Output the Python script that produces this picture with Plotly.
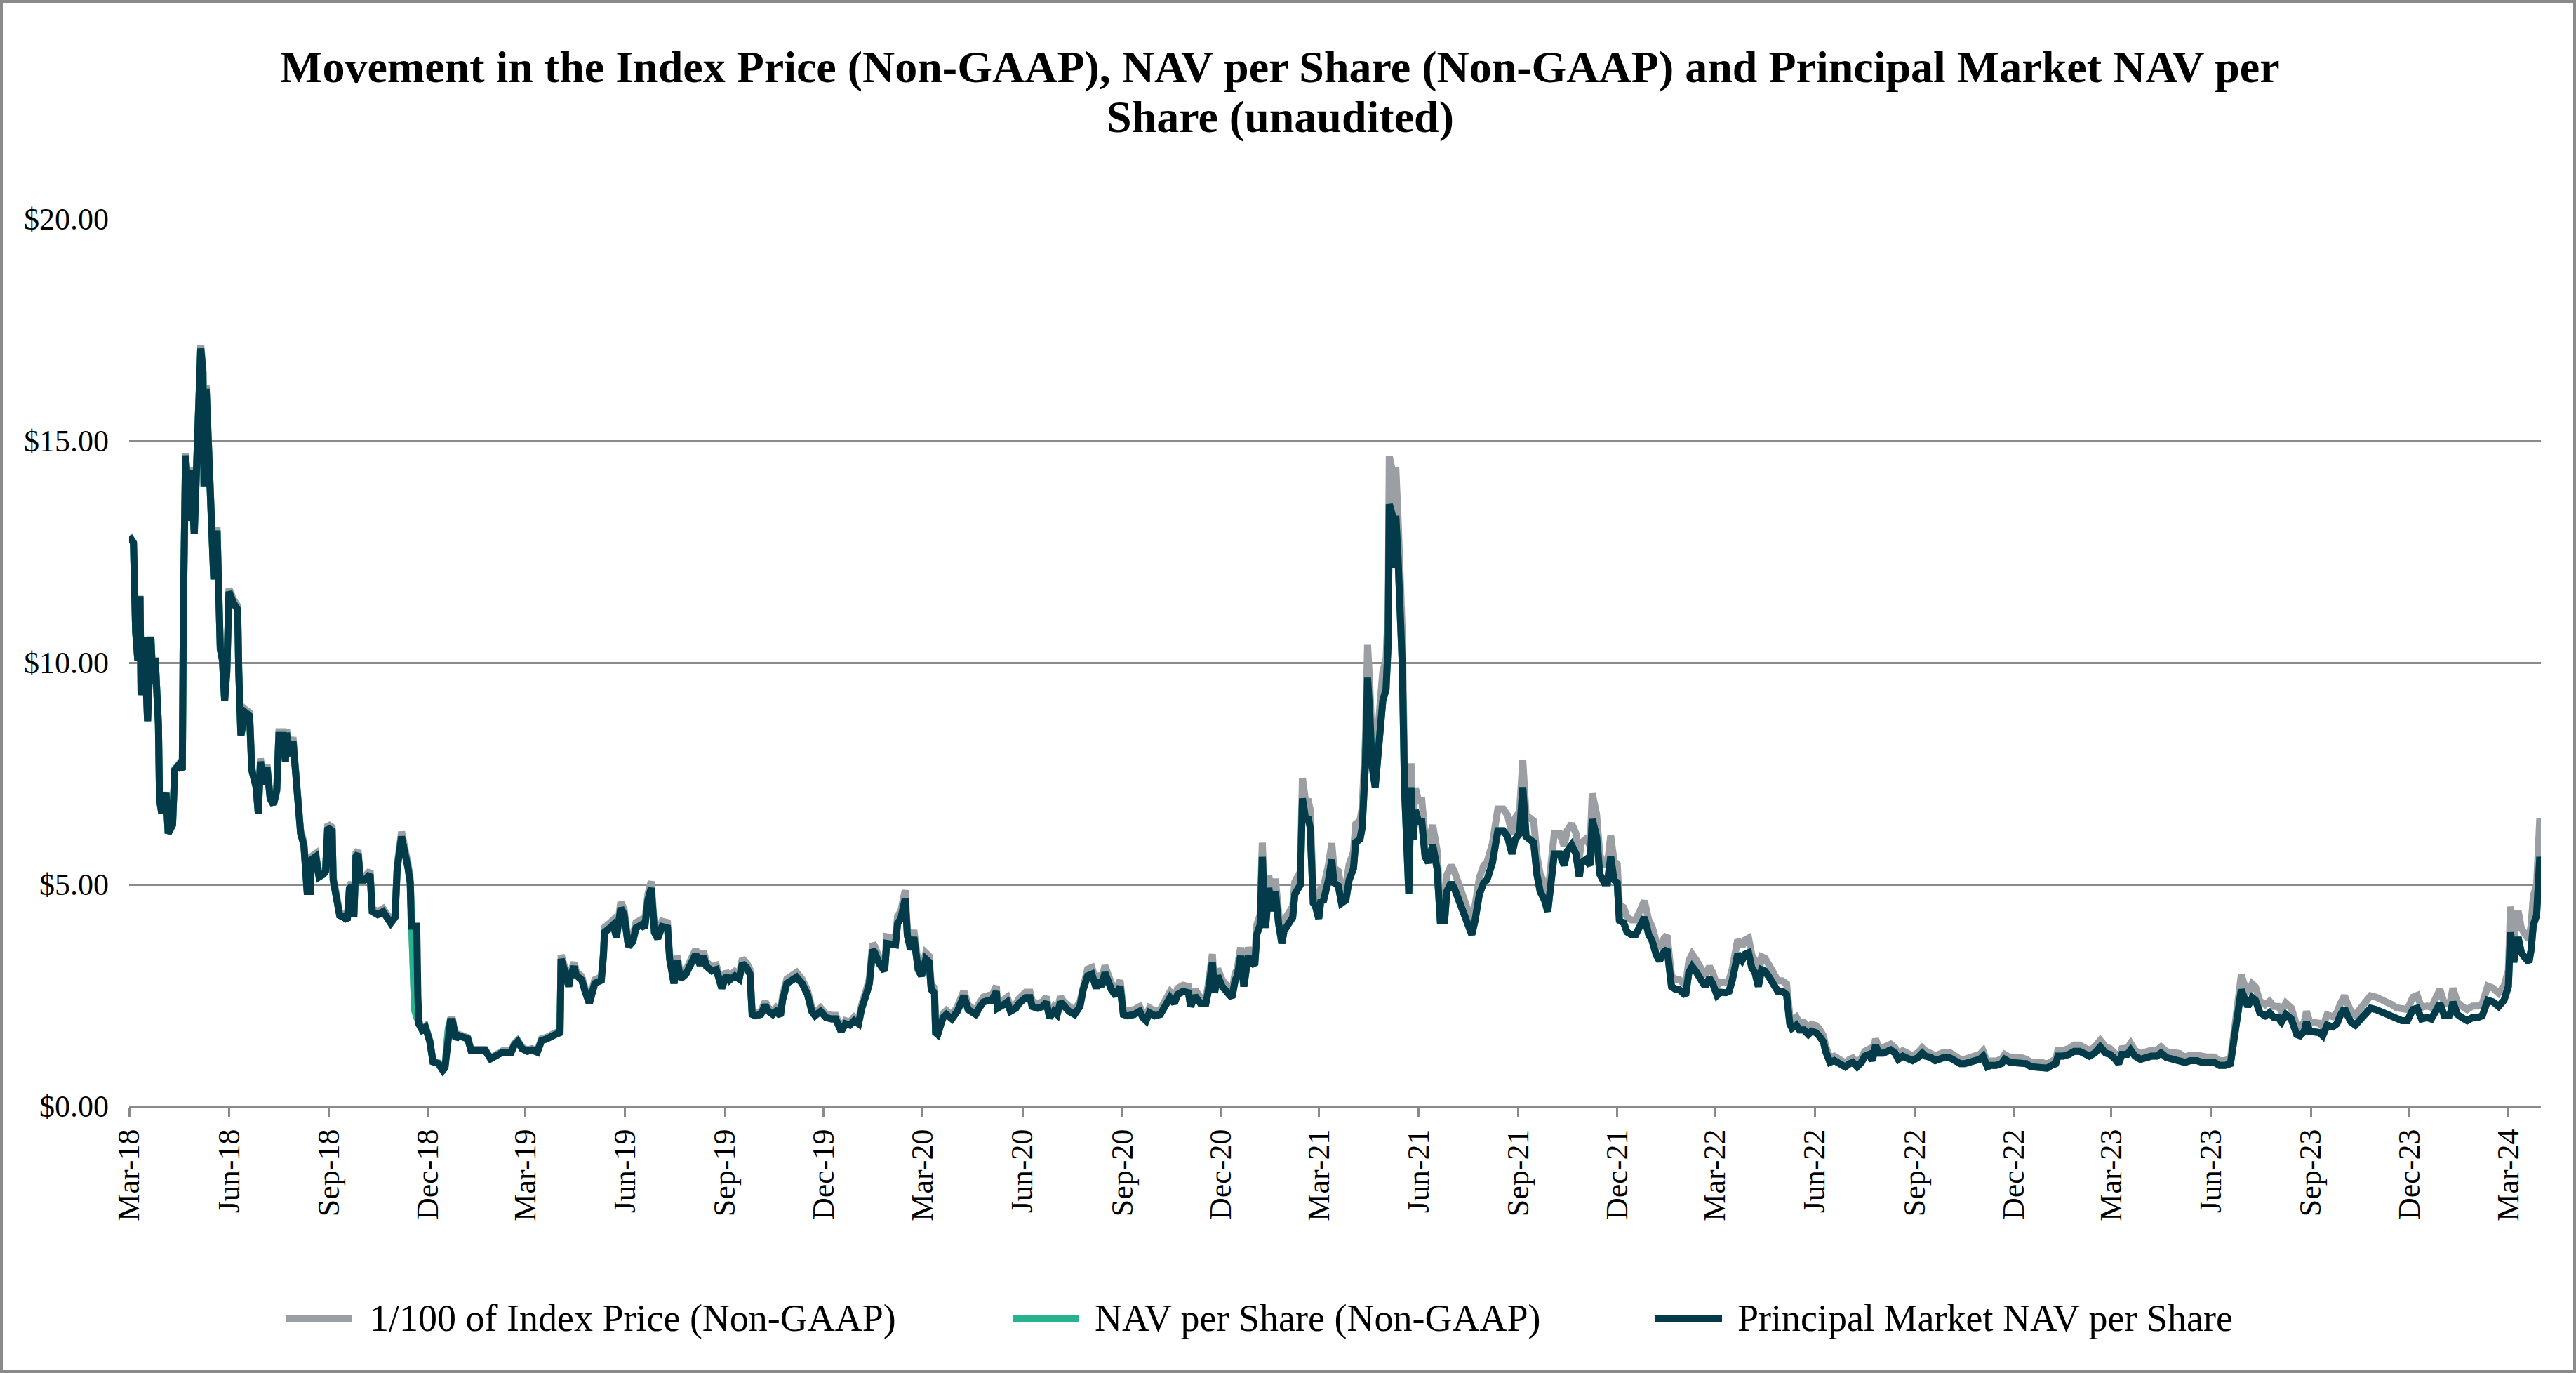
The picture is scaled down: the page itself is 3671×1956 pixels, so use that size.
import pandas as pd
import plotly.graph_objects as go

# ---------------- data ----------------
start_date = "2018-03-01"          # day 0 of the series
end_date = "2024-03-31"

# days elapsed since 2018-03-01 for each observation
day_offset = [
    0, 4, 6, 8, 10, 11, 14, 17, 20, 22, 24, 27, 28, 30, 34, 36, 40, 42, 46, 49,
    50, 52, 56, 57, 60, 62, 63, 66, 68, 69, 71, 74, 77, 78, 81, 83, 84, 86, 88, 90,
    92, 96, 100, 101, 103, 107, 111, 113, 117, 119, 121, 124, 127, 130, 133, 136, 138, 142, 144, 145,
    148, 151, 155, 158, 161, 164, 167, 168, 172, 175, 179, 181, 183, 187, 188, 191, 194, 198, 201, 203,
    205, 207, 209, 211, 213, 217, 222, 224, 229, 234, 237, 241, 245, 247, 251, 253, 257, 259, 260, 263,
    265, 266, 267, 270, 273, 277, 280, 285, 289, 291, 294, 296, 298, 301, 304, 312, 315, 323, 328, 333,
    338, 344, 352, 355, 358, 362,
    367, 371, 376, 380, 385, 389, 393, 397, 398, 401, 405, 407, 410, 412, 417, 420, 424, 429, 435, 437,
    438, 443, 446, 449, 453, 456, 460, 464, 467, 472, 475, 478, 481, 484, 487, 491, 496, 498, 502, 505,
    508, 513, 517, 522, 526, 529, 532, 537, 541, 546, 550, 553, 558, 562, 565, 569, 572, 574, 577, 582,
    586, 589, 593, 596, 600, 602, 606, 611, 615, 620, 625, 629, 632, 637, 642, 647, 651, 656, 660, 664,
    668, 672, 675, 680, 682, 685, 687, 691, 696, 698, 702, 706, 708, 711, 715, 717, 720, 723, 727, 730,
    734, 737, 739, 742, 743, 745, 748, 750, 753, 758, 763, 769, 773, 776, 780, 783, 787, 792, 795, 799,
    800, 805, 809, 812, 817, 820, 826, 830, 832, 837, 842, 845, 848, 852, 855, 858, 861, 866, 871, 876,
    879, 883, 887, 891, 893, 896, 899, 902, 905, 909, 913, 916, 920, 926, 931, 934, 937, 940, 945, 950,
    954, 959, 963, 966, 971, 976, 978, 982, 987, 992, 994, 998, 1000, 1003, 1007, 1012, 1016, 1019, 1021, 1024,
    1027, 1031, 1033, 1037, 1039, 1042, 1044, 1047, 1050, 1053, 1056, 1059, 1062, 1064, 1068, 1072, 1074, 1079, 1081, 1084,
    1086, 1088, 1091, 1093, 1096, 1098, 1100,
    1103, 1105, 1108, 1110, 1114, 1117, 1121, 1124, 1128, 1130, 1134, 1136, 1139, 1141, 1143, 1145, 1148, 1151, 1153, 1155,
    1158, 1160, 1161, 1164, 1166, 1167, 1169, 1171, 1173, 1175, 1177, 1179, 1181, 1183, 1185, 1188, 1191, 1194, 1197, 1201,
    1205, 1208, 1212, 1214, 1218, 1221, 1225, 1228, 1232, 1237, 1240, 1244, 1248, 1251, 1256, 1261, 1266, 1270, 1274, 1277,
    1281, 1284, 1287, 1291, 1294, 1297, 1300, 1304, 1307, 1310, 1313, 1318, 1322, 1325, 1329, 1333, 1336, 1338, 1342, 1346,
    1348, 1352, 1355, 1359, 1362, 1365, 1368, 1371, 1373, 1377, 1380, 1384, 1388, 1392, 1396, 1400, 1403, 1407, 1410, 1414,
    1417, 1421, 1425, 1428, 1432, 1434, 1437, 1440, 1444, 1449, 1452, 1456, 1459, 1463, 1466,
    1471, 1474, 1477, 1480, 1482, 1486, 1489, 1492, 1495, 1498, 1501, 1504, 1507, 1511, 1514, 1519, 1523, 1527, 1530, 1532,
    1536, 1539, 1543, 1547, 1550, 1554, 1557, 1561, 1563, 1567, 1571, 1574, 1578, 1581, 1585, 1588, 1592, 1596, 1599, 1603,
    1606, 1609, 1612, 1616, 1620, 1623, 1627, 1630, 1634, 1639, 1643, 1648, 1652, 1655, 1660, 1664, 1667, 1672, 1677, 1682,
    1687, 1691, 1696, 1701, 1705, 1708, 1712, 1715, 1720, 1725, 1728, 1733, 1738, 1743, 1748, 1752, 1757, 1762, 1767, 1771,
    1775, 1777, 1782, 1787, 1792, 1797, 1801, 1806, 1811, 1816, 1821, 1825, 1830, 1833, 1836,
    1841, 1844, 1848, 1853, 1858, 1863, 1868, 1872, 1877, 1883, 1889, 1894, 1899, 1905, 1910, 1915, 1921, 1926, 1931, 1936,
    1940, 1943, 1946, 1948, 1952, 1956, 1959, 1963, 1968, 1972, 1976, 1980, 1983, 1987, 1992, 1997, 2000, 2004, 2006, 2009,
    2014, 2018, 2021, 2025, 2030, 2034, 2037, 2041, 2044, 2047, 2051, 2056, 2061, 2065, 2070, 2074, 2079, 2084, 2089, 2094,
    2099, 2104, 2108, 2112, 2117, 2121, 2125, 2129, 2133, 2138, 2141, 2145, 2149, 2154, 2159, 2164, 2168, 2173, 2178, 2183,
    2188, 2192, 2194, 2197, 2201, 2204, 2207, 2211, 2213, 2215, 2218, 2220, 2221, 2222,
]

# 1/100 of Index Price (Non-GAAP), USD
index_price_div100 = [
    12.86, 12.71, 10.71, 10.06, 11.51, 9.28, 10.58, 8.69, 10.59, 9.55, 10.12, 8.62, 6.94, 6.61, 7.08, 6.17, 6.36, 7.60, 7.72, 7.61,
    11.24, 14.72, 13.25, 14.41, 12.95, 14.36, 15.97, 17.16, 16.64, 14.03, 16.25, 14.68, 12.47, 11.94, 13.05, 11.67, 10.36, 10.11, 9.20, 9.85,
    11.67, 11.43, 11.28, 9.86, 8.42, 8.95, 8.87, 7.64, 7.25, 6.65, 7.84, 7.31, 7.71, 6.99, 6.86, 7.19, 8.44, 8.44, 7.85, 8.50,
    7.98, 8.32, 7.01, 6.22, 5.96, 4.90, 4.90, 5.63, 5.70, 5.23, 5.30, 5.37, 6.36, 6.29, 5.17, 4.64, 4.36, 4.32, 4.25, 4.97,
    5.04, 4.32, 5.71, 5.77, 5.17, 5.18, 5.31, 4.46, 4.39, 4.46, 4.37, 4.20, 4.33, 5.45, 6.19, 5.99, 5.46, 5.13, 4.13, 2.21,
    2.04, 1.97, 1.88, 1.75, 1.81, 1.49, 1.02, 0.98, 0.83, 0.89, 1.75, 1.95, 1.95, 1.55, 1.62, 1.55, 1.28, 1.28, 1.28, 1.09,
    1.15, 1.25, 1.25, 1.42, 1.49, 1.33,
    1.27, 1.30, 1.25, 1.52, 1.56, 1.59, 1.66, 1.70, 3.41, 3.16, 2.77, 3.06, 3.24, 3.03, 2.93, 2.67, 2.38, 2.85, 2.92, 3.48,
    4.03, 4.13, 4.20, 3.92, 4.60, 4.45, 3.70, 3.82, 4.14, 4.21, 4.14, 4.79, 5.07, 4.04, 3.89, 4.17, 4.14, 3.42, 2.85, 3.39,
    2.96, 3.07, 3.28, 3.54, 3.28, 3.50, 3.25, 3.15, 3.18, 2.75, 3.04, 2.94, 3.04, 2.97, 3.33, 3.23, 3.08, 2.14, 2.11, 2.14,
    2.36, 2.22, 2.14, 2.22, 2.11, 2.48, 2.87, 2.94, 3.02, 2.87, 2.61, 2.22, 2.12, 2.22, 2.08, 2.05, 2.05, 1.76, 1.93, 1.90,
    2.01, 1.93, 2.30, 2.69, 2.88, 3.67, 3.60, 3.35, 3.17, 3.82, 3.82, 3.79, 4.29, 4.40, 4.87, 4.01, 3.67, 3.97, 3.21, 3.06,
    3.46, 3.39, 2.74, 2.67, 1.73, 1.69, 1.94, 2.09, 2.16, 2.06, 2.24, 2.60, 2.28, 2.21, 2.16, 2.31, 2.46, 2.50, 2.50, 2.71,
    2.31, 2.39, 2.46, 2.24, 2.31, 2.43, 2.57, 2.57, 2.36, 2.32, 2.36, 2.47, 2.10, 2.25, 2.17, 2.47, 2.36, 2.25, 2.17, 2.36,
    2.76, 3.09, 3.13, 2.80, 2.99, 2.84, 3.17, 2.91, 2.77, 2.62, 2.84, 2.18, 2.15, 2.18, 2.25, 2.11, 2.03, 2.22, 2.15, 2.18,
    2.40, 2.58, 2.44, 2.66, 2.73, 2.70, 2.37, 2.63, 2.45, 2.45, 2.70, 3.43, 2.70, 3.10, 2.85, 2.73, 2.59, 3.00, 3.10, 3.58,
    2.85, 3.58, 3.43, 3.36, 4.10, 4.32, 5.94, 4.25, 5.20, 4.65, 5.13, 4.36, 3.88, 4.18, 4.33, 4.51, 5.06, 5.28, 7.40, 6.85,
    6.93, 6.70, 4.87, 4.80, 4.50, 4.95, 4.90,
    5.16, 5.44, 5.93, 5.38, 5.30, 4.89, 4.96, 5.45, 5.73, 6.36, 6.44, 6.72, 8.25, 10.40, 9.50, 8.25, 7.70, 8.81, 9.37, 9.79,
    10.07, 11.19, 14.65, 14.30, 13.05, 14.40, 13.30, 11.90, 10.65, 7.72, 6.33, 5.14, 7.73, 6.47, 7.17, 6.89, 6.89, 6.06, 5.91, 6.34,
    5.77, 4.51, 4.51, 5.21, 5.43, 5.29, 5.01, 4.79, 4.52, 4.17, 4.52, 5.15, 5.43, 5.50, 5.92, 6.70, 6.70, 6.56, 6.14, 6.50,
    6.64, 7.80, 6.57, 6.50, 6.43, 5.65, 5.23, 5.02, 4.74, 5.45, 6.15, 6.15, 5.87, 6.22, 6.37, 6.15, 5.59, 5.94, 6.02, 5.88,
    7.05, 6.58, 5.66, 5.46, 5.46, 6.10, 5.53, 5.46, 4.54, 4.48, 4.26, 4.20, 4.20, 4.41, 4.63, 4.20, 4.06, 3.70, 3.56, 3.78,
    3.85, 2.93, 2.86, 2.86, 2.79, 2.72, 3.28, 3.43, 3.29, 3.08, 2.94, 3.15, 3.01, 2.72, 2.80,
    2.79, 2.83, 3.10, 3.63, 3.75, 3.60, 3.75, 3.79, 3.41, 3.29, 2.95, 3.37, 3.34, 3.18, 3.03, 2.83, 2.83, 2.76, 2.04, 1.93,
    2.01, 1.89, 1.89, 1.78, 1.85, 1.82, 1.75, 1.59, 1.36, 1.09, 1.13, 1.09, 1.06, 0.98, 1.06, 1.09, 0.98, 1.09, 1.24, 1.29,
    1.13, 1.52, 1.32, 1.32, 1.37, 1.40, 1.32, 1.17, 1.25, 1.17, 1.14, 1.21, 1.32, 1.25, 1.21, 1.14, 1.17, 1.22, 1.22, 1.14,
    1.06, 1.06, 1.10, 1.14, 1.17, 1.25, 0.99, 1.02, 1.02, 1.06, 1.17, 1.10, 1.10, 1.10, 1.06, 0.99, 0.99, 0.99, 0.95, 1.02,
    1.07, 1.26, 1.26, 1.30, 1.38, 1.38, 1.34, 1.26, 1.34, 1.49, 1.34, 1.30, 1.18, 1.07, 1.30,
    1.31, 1.42, 1.26, 1.19, 1.23, 1.26, 1.26, 1.34, 1.23, 1.19, 1.19, 1.11, 1.15, 1.15, 1.11, 1.11, 1.11, 1.03, 1.03, 1.08,
    1.79, 2.25, 2.96, 2.80, 2.53, 2.76, 2.69, 2.37, 2.29, 2.37, 2.25, 2.25, 2.14, 2.33, 2.22, 1.82, 1.79, 1.90, 2.14, 1.90,
    1.87, 1.87, 1.79, 2.06, 2.02, 2.10, 2.30, 2.49, 2.30, 2.14, 2.06, 2.22, 2.38, 2.49, 2.46, 2.42, 2.34, 2.30, 2.22, 2.18,
    2.18, 2.46, 2.50, 2.23, 2.26, 2.23, 2.42, 2.63, 2.31, 2.31, 2.66, 2.34, 2.26, 2.18, 2.26, 2.26, 2.31, 2.71, 2.66, 2.55,
    2.71, 3.06, 4.50, 3.76, 4.41, 4.01, 3.89, 3.76, 4.09, 4.74, 4.98, 5.99, 6.50, 6.00,
]

# Principal Market NAV per Share, USD
principal_nav = [
    12.85, 12.70, 10.70, 10.05, 11.50, 9.27, 10.57, 8.68, 10.57, 9.53, 10.10, 8.60, 6.93, 6.60, 7.06, 6.15, 6.34, 7.58, 7.70, 7.58,
    11.20, 14.67, 13.20, 14.35, 12.90, 14.30, 15.90, 17.08, 16.56, 13.96, 16.17, 14.60, 12.40, 11.88, 12.98, 11.60, 10.30, 10.05, 9.14, 9.79,
    11.60, 11.35, 11.20, 9.79, 8.36, 8.88, 8.80, 7.58, 7.19, 6.60, 7.77, 7.25, 7.64, 6.93, 6.80, 7.12, 8.36, 8.36, 7.77, 8.42,
    7.90, 8.23, 6.93, 6.15, 5.89, 4.84, 4.84, 5.56, 5.63, 5.17, 5.23, 5.30, 6.28, 6.21, 5.10, 4.58, 4.30, 4.26, 4.19, 4.90,
    4.97, 4.26, 5.63, 5.69, 5.10, 5.10, 5.23, 4.39, 4.32, 4.39, 4.30, 4.13, 4.26, 5.36, 6.08, 5.89, 5.36, 5.04, 4.06, 4.06,
    4.06, 2.50, 1.85, 1.72, 1.78, 1.46, 1.00, 0.96, 0.81, 0.87, 1.72, 1.91, 1.91, 1.52, 1.59, 1.52, 1.26, 1.26, 1.26, 1.07,
    1.13, 1.22, 1.22, 1.39, 1.46, 1.30,
    1.24, 1.27, 1.22, 1.48, 1.52, 1.55, 1.62, 1.66, 3.32, 3.08, 2.70, 2.98, 3.15, 2.95, 2.85, 2.60, 2.32, 2.77, 2.84, 3.39,
    3.92, 4.02, 4.09, 3.81, 4.47, 4.33, 3.60, 3.71, 4.02, 4.09, 4.02, 4.65, 4.92, 3.92, 3.78, 4.05, 4.02, 3.32, 2.77, 3.29,
    2.87, 2.98, 3.18, 3.43, 3.18, 3.39, 3.15, 3.05, 3.08, 2.66, 2.94, 2.84, 2.94, 2.87, 3.22, 3.12, 2.98, 2.07, 2.04, 2.07,
    2.28, 2.14, 2.07, 2.14, 2.04, 2.39, 2.77, 2.84, 2.91, 2.77, 2.52, 2.14, 2.04, 2.14, 2.00, 1.97, 1.97, 1.69, 1.86, 1.83,
    1.93, 1.86, 2.21, 2.59, 2.77, 3.53, 3.46, 3.22, 3.05, 3.67, 3.67, 3.64, 4.12, 4.23, 4.68, 3.85, 3.53, 3.81, 3.08, 2.94,
    3.32, 3.25, 2.63, 2.56, 1.66, 1.62, 1.86, 2.00, 2.07, 1.97, 2.14, 2.49, 2.18, 2.11, 2.07, 2.21, 2.35, 2.39, 2.39, 2.59,
    2.21, 2.28, 2.35, 2.14, 2.21, 2.32, 2.45, 2.45, 2.25, 2.21, 2.25, 2.35, 2.00, 2.14, 2.07, 2.35, 2.25, 2.14, 2.07, 2.25,
    2.63, 2.94, 2.98, 2.66, 2.84, 2.70, 3.01, 2.77, 2.63, 2.49, 2.70, 2.07, 2.04, 2.07, 2.14, 2.00, 1.93, 2.11, 2.04, 2.07,
    2.28, 2.45, 2.32, 2.52, 2.59, 2.56, 2.25, 2.49, 2.32, 2.32, 2.56, 3.25, 2.56, 2.94, 2.70, 2.59, 2.45, 2.84, 2.94, 3.39,
    2.70, 3.39, 3.25, 3.18, 3.88, 4.09, 5.62, 4.02, 4.92, 4.40, 4.85, 4.12, 3.67, 3.95, 4.09, 4.26, 4.78, 4.99, 6.94, 6.45,
    6.52, 6.30, 4.58, 4.51, 4.23, 4.65, 4.60,
    4.84, 5.10, 5.56, 5.04, 4.97, 4.58, 4.65, 5.10, 5.36, 5.95, 6.02, 6.28, 7.71, 9.66, 8.88, 7.71, 7.19, 8.23, 8.75, 9.14,
    9.40, 10.44, 13.57, 13.31, 12.14, 13.31, 12.40, 11.09, 9.92, 7.19, 5.89, 4.78, 7.19, 6.02, 6.67, 6.41, 6.41, 5.63, 5.49, 5.89,
    5.36, 4.19, 4.19, 4.84, 5.04, 4.91, 4.65, 4.45, 4.19, 3.87, 4.19, 4.78, 5.04, 5.10, 5.49, 6.21, 6.21, 6.08, 5.69, 6.02,
    6.15, 7.19, 6.08, 6.02, 5.95, 5.23, 4.84, 4.65, 4.39, 5.04, 5.69, 5.69, 5.43, 5.75, 5.89, 5.69, 5.17, 5.49, 5.56, 5.43,
    6.47, 6.08, 5.23, 5.04, 5.04, 5.63, 5.10, 5.04, 4.19, 4.13, 3.93, 3.87, 3.87, 4.06, 4.26, 3.87, 3.74, 3.41, 3.28, 3.48,
    3.54, 2.70, 2.63, 2.63, 2.57, 2.50, 3.02, 3.15, 3.02, 2.83, 2.70, 2.89, 2.76, 2.50, 2.57,
    2.56, 2.59, 2.84, 3.32, 3.43, 3.29, 3.43, 3.46, 3.12, 3.01, 2.70, 3.08, 3.05, 2.91, 2.77, 2.59, 2.59, 2.52, 1.86, 1.76,
    1.83, 1.72, 1.72, 1.62, 1.69, 1.66, 1.59, 1.45, 1.24, 0.99, 1.03, 0.99, 0.96, 0.89, 0.96, 0.99, 0.89, 0.99, 1.13, 1.17,
    1.03, 1.38, 1.20, 1.20, 1.24, 1.27, 1.20, 1.06, 1.13, 1.06, 1.03, 1.10, 1.20, 1.13, 1.10, 1.03, 1.06, 1.10, 1.10, 1.03,
    0.96, 0.96, 0.99, 1.03, 1.06, 1.13, 0.89, 0.92, 0.92, 0.96, 1.06, 0.99, 0.99, 0.99, 0.96, 0.89, 0.89, 0.89, 0.86, 0.92,
    0.96, 1.13, 1.13, 1.17, 1.24, 1.24, 1.20, 1.13, 1.20, 1.34, 1.20, 1.17, 1.06, 0.96, 1.17,
    1.17, 1.27, 1.13, 1.06, 1.10, 1.13, 1.13, 1.20, 1.10, 1.06, 1.06, 0.99, 1.03, 1.03, 0.99, 0.99, 0.99, 0.92, 0.92, 0.96,
    1.59, 2.00, 2.63, 2.49, 2.25, 2.45, 2.39, 2.11, 2.04, 2.11, 2.00, 2.00, 1.90, 2.07, 1.97, 1.62, 1.59, 1.69, 1.90, 1.69,
    1.66, 1.66, 1.59, 1.83, 1.79, 1.86, 2.04, 2.21, 2.04, 1.90, 1.83, 1.97, 2.11, 2.21, 2.18, 2.14, 2.07, 2.04, 1.97, 1.93,
    1.93, 2.18, 2.21, 1.97, 2.00, 1.97, 2.14, 2.32, 2.04, 2.04, 2.35, 2.07, 2.00, 1.93, 2.00, 2.00, 2.04, 2.39, 2.35, 2.25,
    2.39, 2.70, 3.92, 3.25, 3.81, 3.46, 3.36, 3.25, 3.53, 4.09, 4.30, 5.17, 5.62, 5.17,
]

# NAV per Share (Non-GAAP): same as the principal market NAV except around the
# November 2018 fork, where the two series part for a few days
nav_fork_days = [263, 265, 266]
nav_fork_values = [2.17, 2.00, 1.93]

assert len(day_offset) == len(index_price_div100) == len(principal_nav)

series_names = [
    "1/100 of Index Price (Non-GAAP)",
    "NAV per Share (Non-GAAP)",
    "Principal Market NAV per Share",
]
series_colors = ["#9b9ea2", "#27b38f", "#033b4b"]

title_lines = [
    "Movement in the Index Price (Non-GAAP), NAV per Share (Non-GAAP) and Principal Market NAV per",
    "Share (unaudited)",
]

# ---------------- build ----------------
dates = pd.Timestamp(start_date) + pd.to_timedelta(day_offset, unit="D")
fork = dict(zip(nav_fork_days, nav_fork_values))
nav_per_share = [fork.get(d, v) for d, v in zip(day_offset, principal_nav)]

FONT = "Liberation Serif, Times New Roman, serif"
GRID = "#8a8a8a"
W, H = 3671, 1956
L, R, T, B = 184, 50, 312, 380
PW, PH = W - L - R, H - T - B


def px_x(px):
    return (px - L) / PW


def px_y(py):
    return (H - B - py) / PH


fig = go.Figure()
for yvals, name, color in zip(
    [index_price_div100, nav_per_share, principal_nav], series_names, series_colors
):
    fig.add_trace(
        go.Scatter(
            x=dates,
            y=yvals,
            mode="lines",
            name=name,
            line=dict(color=color, width=10),
            showlegend=False,
        )
    )

# custom legend (long line samples like the original)
legend_items = [(408, 502, 525), (1443, 1538, 1558), (2358, 2454, 2474)]
shapes = []
annotations = []
ly = px_y(1878)
for (x0, x1, tx), name, color in zip(legend_items, series_names, series_colors):
    shapes.append(dict(type="line", xref="paper", yref="paper",
                       x0=px_x(x0), x1=px_x(x1), y0=ly, y1=ly,
                       line=dict(color=color, width=10)))
    annotations.append(dict(xref="paper", yref="paper", x=px_x(tx), y=ly,
                            xanchor="left", yanchor="middle", showarrow=False,
                            text=name, font=dict(family=FONT, size=54, color="#000000")))

# outer frame
shapes.append(dict(type="rect", xref="paper", yref="paper",
                   x0=px_x(2), x1=px_x(W - 2), y0=px_y(2), y1=px_y(H - 2),
                   line=dict(color="#8a8a8a", width=4), fillcolor="rgba(0,0,0,0)",
                   layer="above"))

# title (two lines)
for line_text, py in zip(title_lines, [95, 166]):
    annotations.append(dict(xref="paper", yref="paper", x=px_x(1824), y=px_y(py),
                            xanchor="center", yanchor="middle", showarrow=False,
                            text="<b>" + line_text + "</b>",
                            font=dict(family=FONT, size=64, color="#000000")))

fig.update_layout(
    width=W,
    height=H,
    margin=dict(l=L, r=R, t=T, b=B, pad=0),
    paper_bgcolor="#ffffff",
    plot_bgcolor="#ffffff",
    showlegend=False,
    shapes=shapes,
    annotations=annotations,
    font=dict(family=FONT, size=44, color="#000000"),
)
fig.update_xaxes(
    type="date",
    range=[start_date, end_date],
    tick0=start_date,
    dtick="M3",
    tickformat="%b-%y",
    tickangle=-90,
    ticks="outside",
    ticklen=12,
    tickwidth=3,
    tickcolor=GRID,
    showline=True,
    linecolor=GRID,
    linewidth=3,
    showgrid=False,
    zeroline=False,
    tickfont=dict(family=FONT, size=44, color="#000000"),
)
fig.update_yaxes(
    range=[0, 20],
    tick0=0,
    dtick=5,
    tickprefix="$",
    tickformat=".2f",
    showgrid=True,
    gridcolor=GRID,
    gridwidth=3,
    zeroline=False,
    showline=False,
    ticks="",
    ticklabelstandoff=28,
    tickfont=dict(family=FONT, size=44, color="#000000"),
)

fig.write_html(
    "out.html",
    config={"displayModeBar": False},
    post_script="document.body.style.margin='0';document.body.style.overflow='hidden';",
)
